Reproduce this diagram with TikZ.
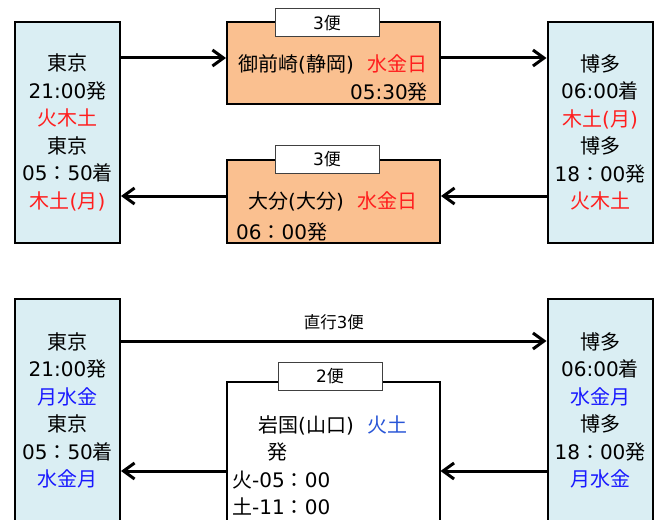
\documentclass[tikz,border=0pt]{standalone}
\usepackage{fontspec}
\setmainfont{DejaVu Sans}
\newfontfamily\jpfont{Noto Sans CJK JP}
\usetikzlibrary{arrows.meta,positioning}

% Japanese characters switch to the CJK font by themselves
\XeTeXinterchartokenstate=1
\newXeTeXintercharclass\jpclass
\newcommand\jpmark[1]{\ifx\relax#1\else\XeTeXcharclass`#1=\jpclass\relax\expandafter\jpmark\fi}
\jpmark 東京発着火木土月水金日博多御前崎静岡大分便直行岩国山口：\relax
\XeTeXinterchartoks 4095 \jpclass = {\begingroup\jpfont}
\XeTeXinterchartoks 0 \jpclass = {\begingroup\jpfont}
\XeTeXinterchartoks \jpclass 0 = {\endgroup}
\XeTeXinterchartoks \jpclass 4095 = {\endgroup}

\definecolor{cityblue}{RGB}{218,238,243}
\definecolor{viaorange}{RGB}{250,192,144}
\definecolor{dayred}{RGB}{255,30,30}
\definecolor{dayblue}{RGB}{25,25,255}
\definecolor{daybluelight}{RGB}{40,85,215}

\tikzset{
    city/.style={draw, line width=2pt, fill=cityblue, minimum width=105pt, minimum height=221pt,
        align=center, inner sep=0pt, font=\fontsize{20}{27.5}\selectfont},
    via/.style={draw, line width=2pt, minimum width=213pt, inner sep=0pt},
    tab/.style={draw=black!75, line width=1pt, fill=white, minimum width=104pt, minimum height=28pt,
        inner sep=0pt, font=\fontsize{17}{20}\selectfont},
    txt/.style={inner sep=0pt, font=\fontsize{20}{27.5}\selectfont},
    arr/.style={line width=3pt, -{Straight Barb[length=11pt,width=16pt]}}
}

\begin{document}
\begin{tikzpicture}[x=1pt, y=-1pt]
    \useasboundingbox (0,0) rectangle (658,519);
    % upper half: via Omaezaki and Oita
    \node[city] (tokyoA) at (67.5,132.5) {東京\\21:00発\\{\color{dayred}火木土}\\東京\\05：50着\\{\color{dayred}木土(月)}};
    \node[city] (hakataA) at (600,132.5) {博多\\06:00着\\{\color{dayred}木土(月)}\\博多\\18：00発\\{\color{dayred}火木土}};
    \node[via, fill=viaorange, minimum height=82pt] (omaezaki) at (333.5,63) {};
    \node[tab] (tabA) at (327,23) {3便};
    \node[txt, align=right, anchor=east] (omaezakiT) at (428,78) {御前崎(静岡)\hspace{14pt}{\color{dayred}水金日}\\05:30発};
    \node[via, fill=viaorange, minimum height=83pt] (oita) at (333.5,201.5) {};
    \node[tab] (tabB) at (327,159.5) {3便};
    \node[txt] (oitaT) at (333,201) {大分(大分)\hspace{14pt}{\color{dayred}水金日}};
    \node[txt, anchor=west] (oitaD) at (236,232) {06：00発};
    \coordinate (rowA) at (0,58);
    \coordinate (rowB) at (0,196);
    \draw[arr] (tokyoA.east |- rowA) -- (omaezaki.west |- rowA);
    \draw[arr] (omaezaki.east |- rowA) -- (hakataA.west |- rowA);
    \draw[arr] (hakataA.west |- rowB) -- (oita.east |- rowB);
    \draw[arr] (oita.west |- rowB) -- (tokyoA.east |- rowB);

    % lower half: direct and via Iwakuni
    \node[city, minimum height=223pt] (tokyoB) at (67.5,410.5) {東京\\21:00発\\{\color{dayblue}月水金}\\東京\\05：50着\\{\color{dayblue}水金月}};
    \node[city, minimum height=223pt] (hakataB) at (600,410.5) {博多\\06:00着\\{\color{dayblue}水金月}\\博多\\18：00発\\{\color{dayblue}月水金}};
    \node[via, fill=white, minimum height=150pt] (iwakuni) at (333,457) {};
    \node[tab] (tabC) at (330,376.5) {2便};
    \node[txt, anchor=west] (iwakuniT) at (258,425) {岩国(山口)\hspace{14pt}{\color{daybluelight}火土}};
    \node[txt] (iwakuniD) at (277,452) {発};
    \node[txt, align=left, anchor=west] (iwakuniS) at (232,493) {火-05：00\\土-11：00};
    \coordinate (rowC) at (0,341);
    \coordinate (rowD) at (0,471);
    \draw[arr] (tokyoB.east |- rowC) -- node[above=9.5pt, inner sep=0pt, font=\fontsize{16.5}{20}\selectfont] (direct) {直行3便} (hakataB.west |- rowC);
    \draw[arr] (hakataB.west |- rowD) -- (iwakuni.east |- rowD);
    \draw[arr] (iwakuni.west |- rowD) -- (tokyoB.east |- rowD);
\end{tikzpicture}
\end{document}
